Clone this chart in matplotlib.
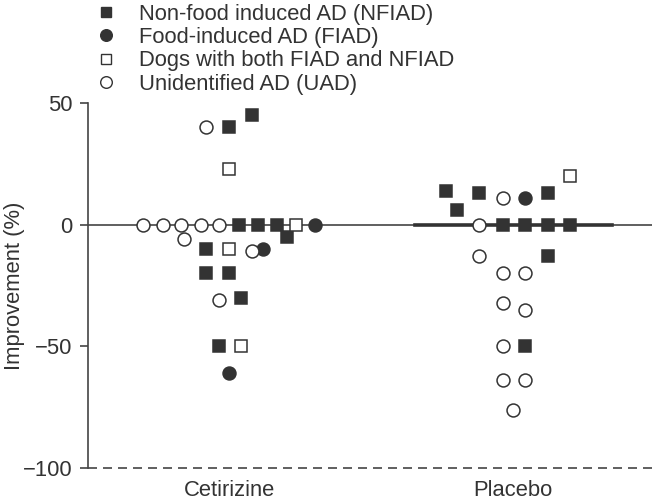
import numpy as np
import matplotlib
matplotlib.use("Agg")
import matplotlib.pyplot as plt
from matplotlib.lines import Line2D

plt.rcParams["font.family"] = ["Liberation Sans", "DejaVu Sans"]

groups = ["Cetirizine", "Placebo"]

# x = group position (1 or 2) + horizontal offset used to spread the dots
# Non-food induced AD (filled squares)
nfiad_group = [1, 1, 1, 1, 1, 1, 1, 1, 1, 1, 1,
               2, 2, 2, 2, 2, 2, 2, 2, 2, 2]
nfiad_offset = [0.0, 0.081, 0.035, 0.102, 0.169, 0.204, -0.081, -0.081, 0.0, 0.042, -0.035,
                -0.236, -0.197, -0.120, 0.123, -0.035, 0.042, 0.123, 0.201, 0.123, 0.042]
nfiad_value = [40, 45, 0, 0, 0, -5, -10, -20, -20, -30, -50,
               14, 6, 13, 13, 0, 0, 0, 0, -13, -50]

# Food-induced AD (filled circles)
fiad_group = [1, 1, 1, 2]
fiad_offset = [0.303, 0.120, 0.0, 0.042]
fiad_value = [0, -10, -61, 11]

# Both FIAD and NFIAD (open squares)
both_group = [1, 1, 1, 1, 2]
both_offset = [0.0, 0.236, 0.0, 0.042, 0.201]
both_value = [23, 0, -10, -50, 20]

# Unidentified AD (open circles)
uad_group = [1, 1, 1, 1, 1, 1, 1, 1, 1,
             2, 2, 2, 2, 2, 2, 2, 2, 2, 2, 2]
uad_offset = [-0.081, -0.303, -0.232, -0.169, -0.099, -0.035, -0.158, 0.081, -0.035,
              -0.035, -0.120, -0.120, -0.035, 0.042, -0.035, 0.042, -0.035, -0.035, 0.042, 0.0]
uad_value = [40, 0, 0, 0, 0, 0, -6, -11, -31,
             11, 0, -13, -20, -20, -32, -35, -50, -64, -64, -76]

labels = ["Non-food induced AD (NFIAD)", "Food-induced AD (FIAD)",
          "Dogs with both FIAD and NFIAD", "Unidentified AD (UAD)"]

dark = "#333333"

fig = plt.figure(figsize=(6.54, 5.01), dpi=100)
ax = fig.add_axes([88/654, 1 - 468/501, 564/654, 365/501])

# reference lines
ax.axhline(0, color="#444444", lw=1.2, zorder=1)
ax.axhline(-100, color="#444444", lw=1.2, ls=(0, (5.4, 3.6)), zorder=1, clip_on=False)

# median of placebo group
all_x = np.array(nfiad_group + fiad_group + both_group + uad_group)
all_y = np.array(nfiad_value + fiad_value + both_value + uad_value)
plac_med = np.median(all_y[all_x == 2])
ax.plot([2 - 0.345, 2 + 0.349], [plac_med, plac_med], color="#333333", lw=2.6, zorder=2)

series = [
    (nfiad_group, nfiad_offset, nfiad_value, "s", dark, 8),
    (fiad_group, fiad_offset, fiad_value, "o", dark, 9.3),
    (both_group, both_offset, both_value, "s", "white", 8),
    (uad_group, uad_offset, uad_value, "o", "white", 9.3),
]
handles = []
for (g, off, val, mk, fc, ms), lab in zip(series, labels):
    x = np.array(g) + np.array(off)
    ax.plot(x, val, ls="none", marker=mk, ms=ms, mfc=fc, mec=dark, mew=1.1,
            zorder=3, clip_on=False)
    handles.append(Line2D([], [], ls="none", marker=mk, ms=ms * 0.9, mfc=fc,
                          mec=dark, mew=1.0))

ax.set_xlim(0.5035, 2.489)
ax.set_ylim(-100, 50)
ax.set_yticks([50, 0, -50, -100])
ax.set_xticks([1, 2])
ax.set_xticklabels(groups)

for s in ["top", "right", "bottom"]:
    ax.spines[s].set_visible(False)
ax.spines["left"].set_color("#444444")
ax.spines["left"].set_linewidth(1.2)

ax.tick_params(axis="y", direction="out", length=6, width=1.2, color="#444444",
               labelsize=15.8, labelcolor=dark, pad=5)
ax.tick_params(axis="x", length=0, labelsize=15.8, labelcolor=dark, pad=9)
ax.set_ylabel("Improvement (%)", fontsize=15.8, color=dark)
ax.yaxis.set_label_coords(-0.112, 0.5)

fig.legend(handles, labels, loc="upper left", bbox_to_anchor=(84/654, 1.014),
           frameon=False, fontsize=15.8, labelcolor=dark, handlelength=1.0,
           handletextpad=1.0, labelspacing=0.1, borderpad=0.0)

plt.savefig("out.png", dpi=100)
